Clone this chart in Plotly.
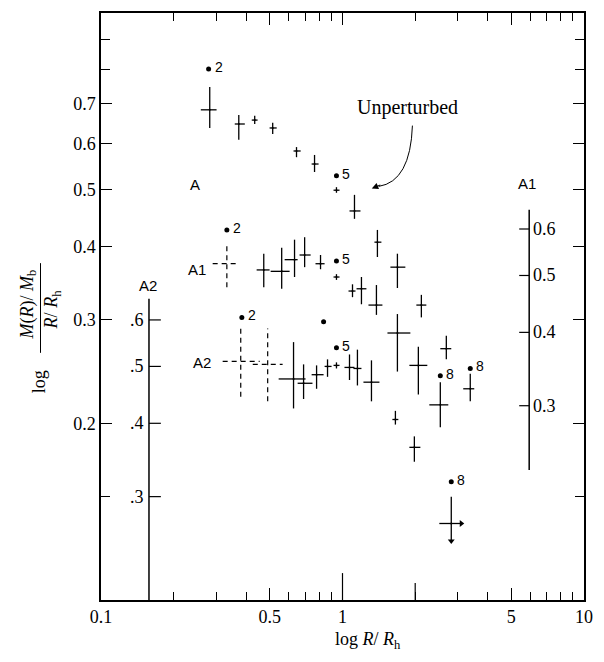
import numpy as np
import plotly.graph_objects as go

# ---------------- data ----------------
# Series A  (top sequence)
A_x   = [0.282, 0.372, 0.433, 0.514, 0.645, 0.766, 0.944, 1.121, 1.395, 1.688, 2.121, 2.691, 3.381]
A_y   = [0.684, 0.647, 0.657, 0.637, 0.582, 0.553, 0.499, 0.460, 0.407, 0.369, 0.318, 0.268, 0.229]
A_xlo = [0.259, 0.358, 0.421, 0.499, 0.627, 0.745, 0.918, 1.069, 1.356, 1.579, 2.022, 2.541, 3.162]
A_xhi = [0.301, 0.394, 0.445, 0.534, 0.671, 0.796, 0.972, 1.187, 1.449, 1.821, 2.224, 2.821, 3.512]
A_ylo = [0.637, 0.608, 0.647, 0.622, 0.568, 0.536, 0.494, 0.446, 0.384, 0.340, 0.303, 0.257, 0.218]
A_yhi = [0.748, 0.670, 0.668, 0.650, 0.591, 0.573, 0.505, 0.490, 0.427, 0.389, 0.331, 0.282, 0.243]

# Series A1
A1_x   = [0.472, 0.560, 0.633, 0.697, 0.811, 0.944, 1.100, 1.198, 1.382, 1.688, 2.061, 2.541]
A1_y   = [0.365, 0.363, 0.380, 0.387, 0.374, 0.355, 0.336, 0.339, 0.318, 0.285, 0.251, 0.215]
A1_xlo = [0.441, 0.504, 0.576, 0.664, 0.773, 0.918, 1.059, 1.143, 1.281, 1.535, 1.892, 2.288]
A1_xhi = [0.499, 0.604, 0.652, 0.738, 0.843, 0.972, 1.132, 1.256, 1.463, 1.910, 2.245, 2.742]
A1_ylo = [0.341, 0.339, 0.355, 0.369, 0.366, 0.351, 0.328, 0.319, 0.306, 0.245, 0.224, 0.197]
A1_yhi = [0.389, 0.398, 0.411, 0.415, 0.387, 0.359, 0.345, 0.355, 0.344, 0.307, 0.270, 0.235]
# A1 dashed (uncertain) point
A1d_x, A1d_y = [0.332], [0.374]
A1d_xlo, A1d_xhi = [0.290], [0.375]
A1d_ylo, A1d_yhi = [0.341], [0.407]

# Series A2
A2_x   = [0.627, 0.690, 0.781, 0.867, 0.944, 1.069, 1.153, 1.318, 1.656, 1.984, 2.821]
A2_y   = [0.238, 0.234, 0.242, 0.250, 0.251, 0.249, 0.248, 0.235, 0.203, 0.182, 0.135]
A2_xlo = [0.544, 0.652, 0.745, 0.843, 0.918, 1.019, 1.110, 1.221, 1.609, 1.892, 2.517]
A2_xhi = [0.703, 0.751, 0.835, 0.901, 0.972, 1.121, 1.198, 1.422, 1.703, 2.101, 3.103]
A2_ylo = [0.212, 0.220, 0.229, 0.240, 0.248, 0.237, 0.232, 0.218, 0.199, 0.172, 0.126]
A2_yhi = [0.275, 0.252, 0.251, 0.257, 0.254, 0.262, 0.267, 0.256, 0.210, 0.190, 0.150]
# A2 dashed (uncertain) points
A2d_x, A2d_y = [0.379, 0.490], [0.255, 0.252]
A2d_xlo, A2d_xhi = [0.319, 0.425], [0.454, 0.565]
A2d_ylo, A2d_yhi = [0.222, 0.218], [0.290, 0.290]

# marked radii (dots) with labels
dot_x   = [0.279, 0.944, 3.381, 0.332, 0.944, 2.541, 0.383, 0.944, 2.821]
dot_y   = [0.803, 0.528, 0.248, 0.427, 0.378, 0.241, 0.303, 0.269, 0.159]
dot_lab = ["2", "5", "8", "2", "5", "8", "2", "5", "8"]
extra_dot_x, extra_dot_y = [0.835], [0.298]

# axis ticks
x_major = [0.1, 0.5, 1, 5, 10]
x_major_text = ["0.1", "0.5", "1", "5", "10"]
x_minor = [0.2, 0.3, 0.4, 0.6, 0.7, 0.8, 0.9, 2, 3, 4, 6, 7, 8, 9]
y_major = [0.2, 0.3, 0.4, 0.5, 0.6, 0.7]
y_major_text = ["0.2", "0.3", "0.4", "0.5", "0.6", "0.7"]
y_minor = [0.15, 0.8, 0.9]

# auxiliary scales: A2 (values = 2 x main), A1 (values = 1.4 x main)
A2_scale_vals = [0.3, 0.4, 0.5, 0.6]
A2_scale_text = [".3", ".4", ".5", ".6"]
A2_factor = 2.0
A2_axis_x = 0.158
A2_axis_top = 0.326
A1_scale_vals = [0.3, 0.4, 0.5, 0.6]
A1_scale_text = ["0.3", "0.4", "0.5", "0.6"]
A1_factor = 1.4
A1_axis_x = 5.93
A1_axis_range = [0.1665, 0.462]

# ---------------- figure ----------------
W, H = 604, 662
L, R, T, B = 101, 16, 11, 62
PW, PH = W - L - R, H - T - B


def pp(px, py):
    return (px - L) / PW, (H - B - py) / PH


SERIF = "Liberation Serif"
SANS = "Liberation Sans"

fig = go.Figure()


def cross_trace(x, y, xlo, xhi, ylo, yhi):
    x, y = np.array(x), np.array(y)
    return go.Scatter(
        x=x, y=y, mode="markers",
        marker=dict(size=2, color="black"),
        error_x=dict(type="data", symmetric=False, array=np.array(xhi) - x,
                     arrayminus=x - np.array(xlo), width=0, thickness=1.3, color="black"),
        error_y=dict(type="data", symmetric=False, array=np.array(yhi) - y,
                     arrayminus=y - np.array(ylo), width=0, thickness=1.3, color="black"),
        showlegend=False, hoverinfo="skip")


def dashed_trace(x, y, xlo, xhi, ylo, yhi):
    xs, ys = [], []
    for xi, yi, a, b, c, d in zip(x, y, xlo, xhi, ylo, yhi):
        xs += [a, b, None, xi, xi, None]
        ys += [yi, yi, None, c, d, None]
    return go.Scatter(x=xs, y=ys, mode="lines",
                      line=dict(color="black", width=1.2, dash="5px,4px"),
                      showlegend=False, hoverinfo="skip")


fig.add_trace(cross_trace(A_x, A_y, A_xlo, A_xhi, A_ylo, A_yhi))
fig.add_trace(cross_trace(A1_x, A1_y, A1_xlo, A1_xhi, A1_ylo, A1_yhi))
fig.add_trace(cross_trace(A2_x, A2_y, A2_xlo, A2_xhi, A2_ylo, A2_yhi))
fig.add_trace(dashed_trace(A1d_x, A1d_y, A1d_xlo, A1d_xhi, A1d_ylo, A1d_yhi))
fig.add_trace(dashed_trace(A2d_x, A2d_y, A2d_xlo, A2d_xhi, A2d_ylo, A2d_yhi))

# arrow heads on the last A2 point (limits)
fig.add_trace(go.Scatter(x=[A2_x[-1]], y=[A2_ylo[-1]], mode="markers",
                         marker=dict(symbol="triangle-down", size=6, color="black"),
                         showlegend=False, hoverinfo="skip"))
fig.add_trace(go.Scatter(x=[A2_xhi[-1]], y=[A2_y[-1]], mode="markers",
                         marker=dict(symbol="triangle-right", size=6, color="black"),
                         showlegend=False, hoverinfo="skip"))

# dots
fig.add_trace(go.Scatter(x=dot_x + extra_dot_x, y=dot_y + extra_dot_y, mode="markers",
                         marker=dict(size=5, color="black"), showlegend=False, hoverinfo="skip"))
for dx, dy, lab in zip(dot_x, dot_y, dot_lab):
    fig.add_annotation(x=np.log10(dx), y=np.log10(dy), xref="x", yref="y", text=lab,
                       showarrow=False, xanchor="left", yanchor="middle", xshift=4, yshift=2,
                       font=dict(family=SANS, size=14, color="black"))

# A2 auxiliary axis
fig.add_trace(go.Scatter(x=[A2_axis_x, A2_axis_x], y=[0.1, A2_axis_top], mode="lines",
                         line=dict(color="black", width=1.5), showlegend=False, hoverinfo="skip"))
tx, ty = [], []
for v in A2_scale_vals:
    yy = v / A2_factor
    tx += [A2_axis_x, A2_axis_x * 1.12, None]
    ty += [yy, yy, None]
fig.add_trace(go.Scatter(x=tx, y=ty, mode="lines", line=dict(color="black", width=1.2),
                         showlegend=False, hoverinfo="skip"))
for v, t in zip(A2_scale_vals, A2_scale_text):
    fig.add_annotation(x=np.log10(A2_axis_x), y=np.log10(v / A2_factor), xref="x", yref="y",
                       text=t, showarrow=False, xanchor="right", yanchor="middle", xshift=-3,
                       font=dict(family=SERIF, size=18, color="black"))

# A1 auxiliary axis
fig.add_trace(go.Scatter(x=[A1_axis_x, A1_axis_x], y=A1_axis_range, mode="lines",
                         line=dict(color="black", width=1.5), showlegend=False, hoverinfo="skip"))
tx, ty = [], []
for v in A1_scale_vals:
    yy = v / A1_factor
    tx += [A1_axis_x / 1.1, A1_axis_x, None]
    ty += [yy, yy, None]
fig.add_trace(go.Scatter(x=tx, y=ty, mode="lines", line=dict(color="black", width=1.2),
                         showlegend=False, hoverinfo="skip"))
for v, t in zip(A1_scale_vals, A1_scale_text):
    fig.add_annotation(x=np.log10(A1_axis_x), y=np.log10(v / A1_factor), xref="x", yref="y",
                       text=t, showarrow=False, xanchor="left", yanchor="middle", xshift=2,
                       font=dict(family=SERIF, size=18, color="black"))


def label(txt, px, py, family, size, angle=0):
    xp, yp = pp(px, py)
    fig.add_annotation(x=xp, y=yp, xref="paper", yref="paper", text=txt, showarrow=False,
                       xanchor="center", yanchor="middle", textangle=angle,
                       font=dict(family=family, size=size, color="black"))


# series labels
for txt, (px, py) in [("A", (196, 183)), ("A1", (198, 268)), ("A2", (203, 362)),
                      ("A1", (531, 182)), ("A2", (148, 284))]:
    label(txt, px, py, SANS, 15)

# "Unperturbed" with curved arrow
label("Unperturbed", 410, 106, SERIF, 20)
p0, c0, p1 = pp(415, 124), pp(413, 180), pp(381, 185)
fig.add_shape(type="path", xref="paper", yref="paper",
              path=f"M {p0[0]},{p0[1]} Q {c0[0]},{c0[1]} {p1[0]},{p1[1]}",
              line=dict(color="black", width=1))
hx, hy = pp(374, 187)
fig.add_annotation(x=hx, y=hy, xref="paper", yref="paper", text="", showarrow=True,
                   ax=10, ay=-4, arrowhead=2, arrowsize=1.3, arrowwidth=1, arrowcolor="black")

# y-axis title (log of a fraction)
label("log", 38, 381, SERIF, 18, -90)
label("<i>M</i>(<i>R</i>)/ <i>M</i><sub>b</sub>", 27, 304, SERIF, 18, -90)
label("<i>R</i>/ <i>R</i><sub>h</sub>", 53, 308, SERIF, 18, -90)
b0, b1 = pp(40, 262), pp(40, 352)
fig.add_shape(type="line", xref="paper", yref="paper", x0=b0[0], y0=b0[1], x1=b1[0], y1=b1[1],
              line=dict(color="black", width=1))

# taller tick marks at 1 and 2 on the bottom axis (paper x from log position)
for v, ln in [(1, 27), (2, 17)]:
    xp = (np.log10(v) + 1) / 2
    fig.add_shape(type="line", xref="paper", yref="paper", x0=xp, x1=xp, y0=0, y1=ln / PH,
                  line=dict(color="black", width=1.2))

# x-axis title
label("log <i>R</i>/ <i>R</i><sub>h</sub>", 370, 641, SERIF, 18)

axis_common = dict(type="log", showline=True, linecolor="black", linewidth=1.5,
                   mirror="ticks", ticks="inside", tickcolor="black", tickwidth=1.2,
                   showgrid=False, zeroline=False,
                   tickfont=dict(family=SERIF, size=18, color="black"))

fig.update_layout(
    width=W, height=H, margin=dict(l=L, r=R, t=T, b=B),
    paper_bgcolor="white", plot_bgcolor="white", showlegend=False,
    xaxis=dict(range=[-1, 1], tickvals=x_major, ticktext=x_major_text, ticklen=12,
               minor=dict(tickvals=x_minor, ticks="inside", ticklen=8, tickwidth=1,
                          tickcolor="black", showgrid=False),
               **axis_common),
    yaxis=dict(range=[-1, 0], tickvals=y_major, ticktext=y_major_text, ticklen=11,
               minor=dict(tickvals=y_minor, ticks="inside", ticklen=9, tickwidth=1,
                          tickcolor="black", showgrid=False),
               **axis_common),
)

fig.write_html("out.html")
